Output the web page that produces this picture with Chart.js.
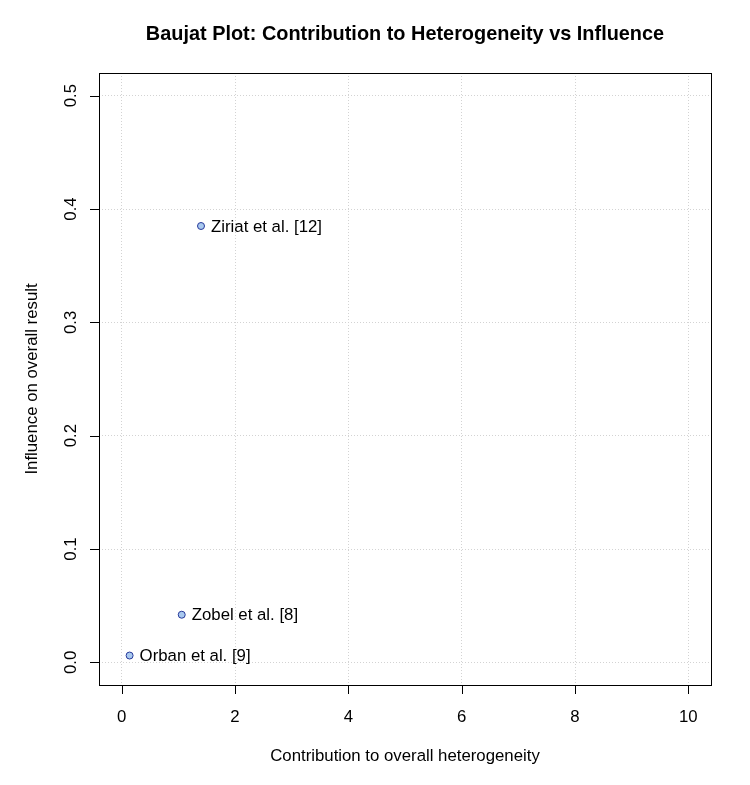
<!DOCTYPE html>
<html>
<head>
<meta charset="utf-8">
<script src="https://cdn.jsdelivr.net/npm/chart.js@4/dist/chart.umd.min.js"></script>
<style>
html,body{margin:0;padding:0;background:#fff;}
canvas{display:block;}
</style>
</head>
<body>
<canvas id="c" width="750" height="785"></canvas>
<script>
const studyLabels = ["Ziriat et al. [12]", "Zobel et al. [8]", "Orban et al. [9]"];
const heterogeneity = [1.40, 1.06, 0.14];
const influence = [0.385, 0.042, 0.006];
const xTicks = [0, 2, 4, 6, 8, 10];
const xTickLabels = ["0", "2", "4", "6", "8", "10"];
const yTicks = [0, 0.1, 0.2, 0.3, 0.4, 0.5];
const yTickLabels = ["0.0", "0.1", "0.2", "0.3", "0.4", "0.5"];
const titleText = "Baujat Plot: Contribution to Heterogeneity vs Influence";
const xTitle = "Contribution to overall heterogeneity";
const yTitle = "Influence on overall result";

const FONT = '"Liberation Sans", Arial, sans-serif';

const rPlot = {
  id: 'rPlot',
  afterDraw(chart) {
    const ctx = chart.ctx;
    const a = chart.chartArea;
    const xs = chart.scales.x, ys = chart.scales.y;
    ctx.save();
    ctx.strokeStyle = '#000';
    ctx.lineWidth = 1;
    ctx.strokeRect(Math.round(a.left) + 0.5, Math.round(a.top) + 0.5,
                   Math.round(a.right - a.left), Math.round(a.bottom - a.top));
    ctx.beginPath();
    xTicks.forEach(v => {
      const px = Math.round(xs.getPixelForValue(v)) + 0.5;
      ctx.moveTo(px, a.bottom); ctx.lineTo(px, a.bottom + 9);
    });
    yTicks.forEach(v => {
      const py = Math.round(ys.getPixelForValue(v)) + 0.5;
      ctx.moveTo(a.left, py); ctx.lineTo(a.left - 9, py);
    });
    ctx.stroke();
    ctx.fillStyle = '#000';
    ctx.font = '16.8px ' + FONT;
    ctx.textAlign = 'center';
    ctx.textBaseline = 'middle';
    xTicks.forEach((v, i) => {
      ctx.fillText(xTickLabels[i], xs.getPixelForValue(v), 717);
    });
    yTicks.forEach((v, i) => {
      ctx.save();
      ctx.translate(71, ys.getPixelForValue(v));
      ctx.rotate(-Math.PI / 2);
      ctx.fillText(yTickLabels[i], 0, 0);
      ctx.restore();
    });
    ctx.fillText(xTitle, (a.left + a.right) / 2, 756);
    ctx.save();
    ctx.translate(32, (a.top + a.bottom) / 2);
    ctx.rotate(-Math.PI / 2);
    ctx.fillText(yTitle, 0, 0);
    ctx.restore();
    ctx.font = 'bold 19.9px ' + FONT;
    ctx.fillText(titleText, (a.left + a.right) / 2, 35);
    ctx.font = '16.8px ' + FONT;
    ctx.textAlign = 'left';
    const meta = chart.getDatasetMeta(0);
    meta.data.forEach((pt, i) => {
      ctx.fillText(studyLabels[i], pt.x + 10, pt.y + 1);
    });
    ctx.restore();
  }
};

new Chart(document.getElementById('c'), {
  type: 'scatter',
  data: {
    datasets: [{
      data: heterogeneity.map((x, i) => ({ x: x, y: influence[i] })),
      pointRadius: 3.5,
      pointHoverRadius: 3.5,
      pointBackgroundColor: '#a9c9ef',
      pointBorderColor: '#27399a',
      pointBorderWidth: 1
    }]
  },
  options: {
    responsive: false,
    animation: false,
    devicePixelRatio: 1,
    events: [],
    layout: { padding: { left: 99, top: 73, right: 39, bottom: 100 } },
    plugins: { legend: { display: false }, tooltip: { enabled: false }, title: { display: false } },
    scales: {
      x: {
        type: 'linear', min: -0.4, max: 10.4,
        afterBuildTicks: s => { s.ticks = xTicks.map(v => ({ value: v })); },
        afterFit: s => { s.height = 0; },
        ticks: { display: false },
        grid: { color: '#d3d3d3', lineWidth: 1, drawTicks: false },
        border: { display: false, dash: [1, 2] }
      },
      y: {
        type: 'linear', min: -0.02, max: 0.52,
        afterBuildTicks: s => { s.ticks = yTicks.map(v => ({ value: v })); },
        afterFit: s => { s.width = 0; },
        ticks: { display: false },
        grid: { color: '#d3d3d3', lineWidth: 1, drawTicks: false },
        border: { display: false, dash: [1, 2] }
      }
    }
  },
  plugins: [rPlot]
});
</script>
</body>
</html>
